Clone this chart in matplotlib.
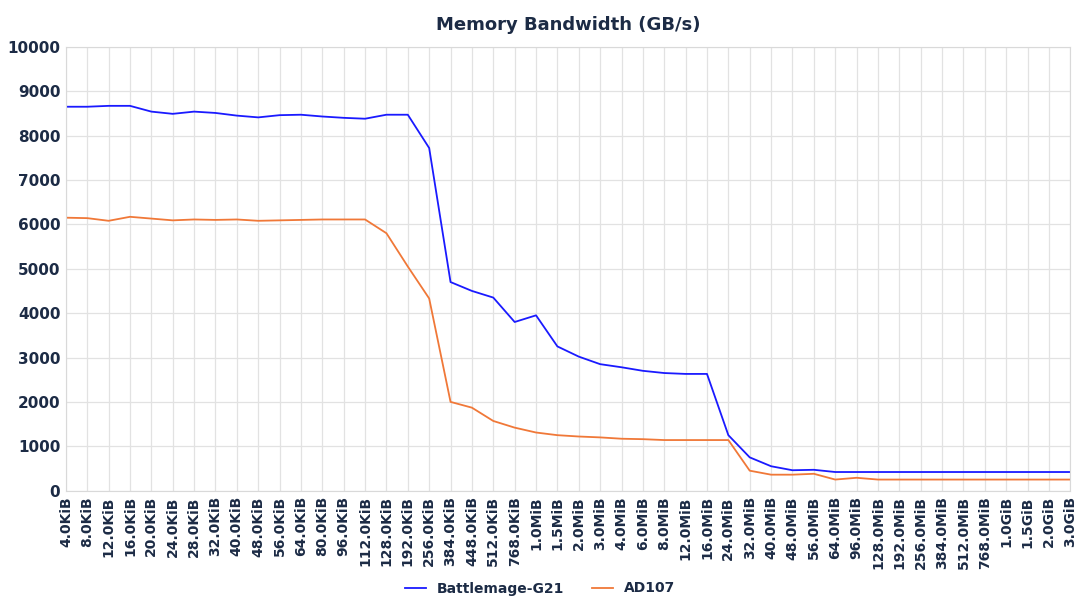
import matplotlib
matplotlib.use("Agg")
import matplotlib.pyplot as plt

sizes = ["4.0KiB", "8.0KiB", "12.0KiB", "16.0KiB", "20.0KiB", "24.0KiB", "28.0KiB", "32.0KiB",
         "40.0KiB", "48.0KiB", "56.0KiB", "64.0KiB", "80.0KiB", "96.0KiB", "112.0KiB", "128.0KiB",
         "192.0KiB", "256.0KiB", "384.0KiB", "448.0KiB", "512.0KiB", "768.0KiB", "1.0MiB", "1.5MiB",
         "2.0MiB", "3.0MiB", "4.0MiB", "6.0MiB", "8.0MiB", "12.0MiB", "16.0MiB", "24.0MiB",
         "32.0MiB", "40.0MiB", "48.0MiB", "56.0MiB", "64.0MiB", "96.0MiB", "128.0MiB", "192.0MiB",
         "256.0MiB", "384.0MiB", "512.0MiB", "768.0MiB", "1.0GiB", "1.5GiB", "2.0GiB", "3.0GiB"]

bmg_g21 = [8650, 8650, 8670, 8670, 8540, 8490, 8540, 8510, 8450, 8410, 8460, 8470, 8430, 8400,
           8380, 8470, 8470, 7720, 4700, 4500, 4350, 3800, 3950, 3250, 3020, 2850, 2780, 2700,
           2650, 2630, 2630, 1250, 750, 550, 460, 470, 420, 420, 420, 420, 420, 420, 420, 420,
           420, 420, 420, 420]
ad107 = [6150, 6140, 6080, 6170, 6130, 6090, 6110, 6100, 6110, 6080, 6090, 6100, 6110, 6110,
         6110, 5800, 5050, 4330, 2000, 1870, 1570, 1420, 1310, 1250, 1220, 1200, 1170, 1160,
         1140, 1140, 1140, 1140, 450, 360, 360, 380, 250, 290, 250, 250, 250, 250, 250, 250,
         250, 250, 250, 250]

fig = plt.figure(figsize=(10.8, 6.08), dpi=100)
ax = fig.add_axes([0.061, 0.193, 0.93, 0.73])
x = range(len(sizes))
ax.plot(x, bmg_g21, color="#1a1aff", lw=1.3, label="Battlemage-G21")
ax.plot(x, ad107, color="#f07838", lw=1.3, label="AD107")

ax.set_xlim(0, len(sizes) - 1)
ax.set_ylim(0, 10000)
ax.set_yticks(range(0, 10001, 1000))
ax.set_xticks(list(x))
ax.set_xticklabels(sizes, rotation=90, fontsize=10, fontweight="bold", color="#1c2b45",
                   family="Liberation Sans Narrow")
for t in ax.get_yticklabels():
    t.set_fontweight("bold")
    t.set_color("#1c2b45")
    t.set_fontsize(11)
ax.grid(True, color="#e2e2e2", lw=0.9)
ax.set_axisbelow(True)
for s in ax.spines.values():
    s.set_color("#d9d9d9")
ax.tick_params(length=0, pad=4)
ax.set_title("Memory Bandwidth (GB/s)", fontsize=13, fontweight="bold", color="#1c2b45", pad=12)
fig.legend(loc="lower center", bbox_to_anchor=(0.5, 0.0), ncol=2, frameon=False,
           prop={"weight": "bold", "size": 10}, handlelength=1.5)
for t in fig.legends[0].get_texts():
    t.set_color("#1c2b45")

fig.savefig("out.png", dpi=100)
